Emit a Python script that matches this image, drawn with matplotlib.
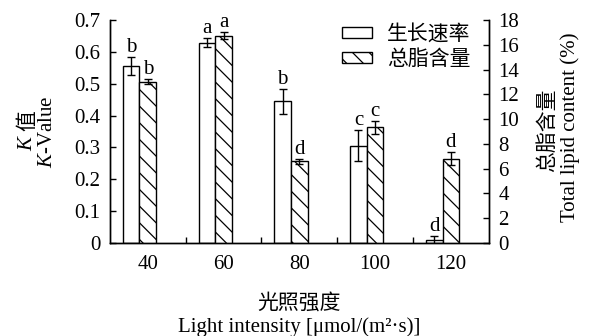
import matplotlib
matplotlib.use("Agg")
import matplotlib.pyplot as plt
from matplotlib.patches import Patch
from matplotlib.ticker import FuncFormatter, FixedLocator

plt.rcParams['font.family'] = ['Liberation Serif', 'Noto Sans CJK SC']
plt.rcParams['hatch.linewidth'] = 0.9
plt.rcParams['mathtext.fontset'] = 'custom'
plt.rcParams['mathtext.it'] = 'Liberation Serif:italic'
plt.rcParams['mathtext.rm'] = 'Liberation Serif'

categories = ['40', '60', '80', '100', '120']
k_value = [0.556, 0.629, 0.445, 0.306, 0.010]
k_err = [0.027, 0.014, 0.040, 0.050, 0.012]
k_letters = ['b', 'a', 'b', 'c', 'd']
lipid = [13.03, 16.73, 6.59, 9.33, 6.81]
lipid_err = [0.22, 0.28, 0.23, 0.49, 0.54]
lipid_letters = ['b', 'a', 'd', 'c', 'd']

FS = 15
HATCH = '\\\\'
fig = plt.figure(figsize=(5.91, 3.36), dpi=100)
ax = fig.add_axes([0.186, 0.277, 0.641, 0.663])
ax2 = ax.twinx()

w = 0.22
x = list(range(len(categories)))
xw = [i - w for i in x]

ax.bar(xw, k_value, width=w, color='white', edgecolor='black', linewidth=1.0,
       yerr=k_err, error_kw=dict(ecolor='black', elinewidth=1.0, capsize=3, capthick=1.0), zorder=2)
ax2.bar(x, lipid, width=w, color='white', edgecolor='black', linewidth=1.0, hatch=HATCH,
        yerr=lipid_err, error_kw=dict(ecolor='black', elinewidth=1.0, capsize=3, capthick=1.0), zorder=2)

for xi, v, e, t in zip(xw, k_value, k_err, k_letters):
    ax.annotate(t, (xi, v + e), xytext=(0, 0), textcoords='offset points',
                ha='center', va='bottom', fontsize=FS)
for xi, v, e, t in zip(x, lipid, lipid_err, lipid_letters):
    ax2.annotate(t, (xi, v + e), xytext=(0, 0), textcoords='offset points',
                 ha='center', va='bottom', fontsize=FS)

ax.set_xlim(-0.5, len(categories) - 0.5)
ax.set_ylim(0, 0.7)
ax2.set_ylim(0, 18)
ax.set_yticks([i / 10 for i in range(8)])
ax.yaxis.set_major_formatter(FuncFormatter(lambda v, p: '0' if abs(v) < 1e-9 else f'{v:.1f}'))
ax2.set_yticks(range(0, 19, 2))
ax.set_xticks(x)
ax.set_xticklabels(categories)
ax.xaxis.set_minor_locator(FixedLocator([i + 0.5 for i in x[:-1]]))

ax.tick_params(axis='x', which='major', length=0, pad=9, labelsize=FS)
ax.tick_params(axis='x', which='minor', direction='in', length=4, width=1)
ax.tick_params(axis='y', direction='in', length=4, width=1, pad=7, labelsize=FS)
ax2.tick_params(axis='y', direction='in', length=4, width=1, pad=7, labelsize=FS)

for a in (ax, ax2):
    a.spines['top'].set_visible(False)
    for s in ('left', 'right', 'bottom'):
        a.spines[s].set_linewidth(1.0)

handles = [Patch(facecolor='white', edgecolor='black', linewidth=1.0),
           Patch(facecolor='white', edgecolor='black', linewidth=1.0, hatch=HATCH)]
ax2.legend(handles, ['生长速率', '总脂含量'], loc='upper right', frameon=False,
           fontsize=FS, handlelength=1.45, handleheight=0.45, handletextpad=0.7,
           labelspacing=0.25, borderaxespad=0.3, bbox_to_anchor=(0.99, 1.045))

# left y label (two lines)
fig.text(0.046, 0.575, r'$\mathit{K}$', rotation=90, ha='center', va='center', fontsize=FS)
fig.text(0.046, 0.64, '值', rotation=90, ha='center', va='center', fontsize=FS,
         family=['Noto Sans CJK SC'])
fig.text(0.080, 0.607, r'$\mathit{K}$-Value', rotation=90, ha='center', va='center', fontsize=FS)

# right y label (two lines)
fig.text(0.925, 0.613, '总脂含量', rotation=90, ha='center', va='center', fontsize=FS,
         family=['Noto Sans CJK SC'])
fig.text(0.965, 0.62, 'Total lipid content (%)', rotation=90, ha='center', va='center', fontsize=FS)

# x label (two lines)
fig.text(0.506, 0.10, '光照强度', ha='center', va='center', fontsize=FS,
         family=['Noto Sans CJK SC'])
fig.text(0.506, 0.027, 'Light intensity [μmol/(m²·s)]', ha='center', va='center', fontsize=FS)

fig.savefig('out.png', dpi=100)
